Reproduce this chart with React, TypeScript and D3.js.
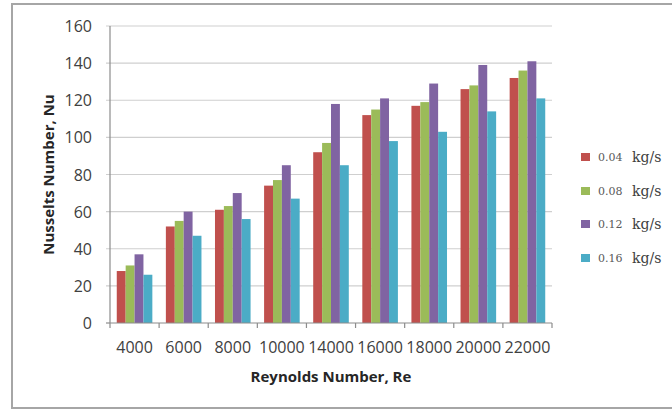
import React from "react";
import * as d3 from "d3";

const categories = ["4000", "6000", "8000", "10000", "14000", "16000", "18000", "20000", "22000"];
const seriesNames = ["0.04", "0.08", "0.12", "0.16"];
const s004 = [28, 52, 61, 74, 92, 112, 117, 126, 132];
const s008 = [31, 55, 63, 77, 97, 115, 119, 128, 136];
const s012 = [37, 60, 70, 85, 118, 121, 129, 139, 141];
const s016 = [26, 47, 56, 67, 85, 98, 103, 114, 121];
const yTicks = [0, 20, 40, 60, 80, 100, 120, 140, 160];
const colors = ["#C0504D", "#9BBB59", "#8064A2", "#4BACC6"];

const W = 672;
const H = 410;
const plot = { left: 110, right: 552, top: 26, bottom: 323 };

export default function App() {
  const series = [s004, s008, s012, s016];
  const x = d3.scaleBand<string>().domain(categories).range([plot.left, plot.right]).paddingInner(0).paddingOuter(0);
  const xs = d3
    .scaleBand<number>()
    .domain([0, 1, 2, 3])
    .range([0, x.bandwidth()])
    .paddingInner(0)
    .paddingOuter(0.76);
  const y = d3.scaleLinear().domain([0, 160]).range([plot.bottom, plot.top]);
  const tickFont = "'Open Sans', sans-serif";
  const boundaries = d3.range(categories.length + 1).map((i) => plot.left + i * x.step());
  const legendY = [157, 191, 224, 258];

  return (
    <svg
      width={W}
      height={H}
      style={{ position: "absolute", left: 0, top: 0, background: "#fff" }}
    >
      <rect x={0} y={0} width={W} height={H} fill="#fff" />
      <rect x={12} y={4} width={700} height={404} fill="none" stroke="#a6a6a6" strokeWidth={2} />
      {/* gridlines */}
      {yTicks.map((t) => (
        <line
          key={"g" + t}
          x1={plot.left - 4}
          x2={t === 0 ? plot.left : plot.right}
          y1={y(t)}
          y2={y(t)}
          stroke={t === 0 ? "#8c8c8c" : "#cfcfcf"}
          strokeWidth={1.2}
        />
      ))}
      {/* y tick labels */}
      {yTicks.map((t) => (
        <text
          key={"yl" + t}
          x={92}
          y={y(t)}
          textAnchor="end"
          dominantBaseline="central"
          fontFamily={tickFont}
          fontSize={16}
          fill="#404040"
        >
          {t}
        </text>
      ))}
      {/* bars */}
      {categories.map((c, i) => (
        <g key={c}>
          {series.map((s, j) => (
            <rect
              key={j}
              x={(x(c) as number) + (xs(j) as number)}
              y={y(s[i])}
              width={xs.bandwidth()}
              height={y(0) - y(s[i])}
              fill={colors[j]}
            />
          ))}
        </g>
      ))}
      {/* axes */}
      <line x1={plot.left} x2={plot.left} y1={plot.top} y2={plot.bottom} stroke="#8c8c8c" strokeWidth={1.2} />
      <line x1={plot.left} x2={plot.right} y1={plot.bottom} y2={plot.bottom} stroke="#8c8c8c" strokeWidth={1.2} />
      {boundaries.map((bx, i) => (
        <line key={"t" + i} x1={bx} x2={bx} y1={plot.bottom} y2={plot.bottom + 5} stroke="#8c8c8c" strokeWidth={1.2} />
      ))}
      {categories.map((c) => (
        <text
          key={"xl" + c}
          x={(x(c) as number) + x.bandwidth() / 2}
          y={353}
          textAnchor="middle"
          fontFamily={tickFont}
          fontSize={16}
          fill="#404040"
        >
          {c}
        </text>
      ))}
      {/* axis titles */}
      <text
        x={331}
        y={382}
        textAnchor="middle"
        fontFamily={tickFont}
        fontWeight="bold"
        fontSize={15}
        fill="#262626"
      >
        Reynolds Number, Re
      </text>
      <text
        transform={`translate(54, ${(plot.top + plot.bottom) / 2}) rotate(-90)`}
        textAnchor="middle"
        fontFamily={tickFont}
        fontWeight="bold"
        fontSize={15}
        fill="#262626"
      >
        Nusselts Number, Nu
      </text>
      {/* legend */}
      {seriesNames.map((n, j) => (
        <g key={"lg" + n}>
          <rect x={581} y={legendY[j] - 4} width={9} height={8} fill={colors[j]} />
          <text
            x={598}
            y={legendY[j]}
            dominantBaseline="central"
            fontFamily="'DejaVu Serif', serif"
            fontSize={11}
            fill="#595959"
          >
            {n}
          </text>
          <text
            x={632}
            y={legendY[j]}
            dominantBaseline="central"
            fontFamily="'DejaVu Serif', serif"
            fontSize={14}
            fill="#404040"
          >
            kg/s
          </text>
        </g>
      ))}
    </svg>
  );
}
